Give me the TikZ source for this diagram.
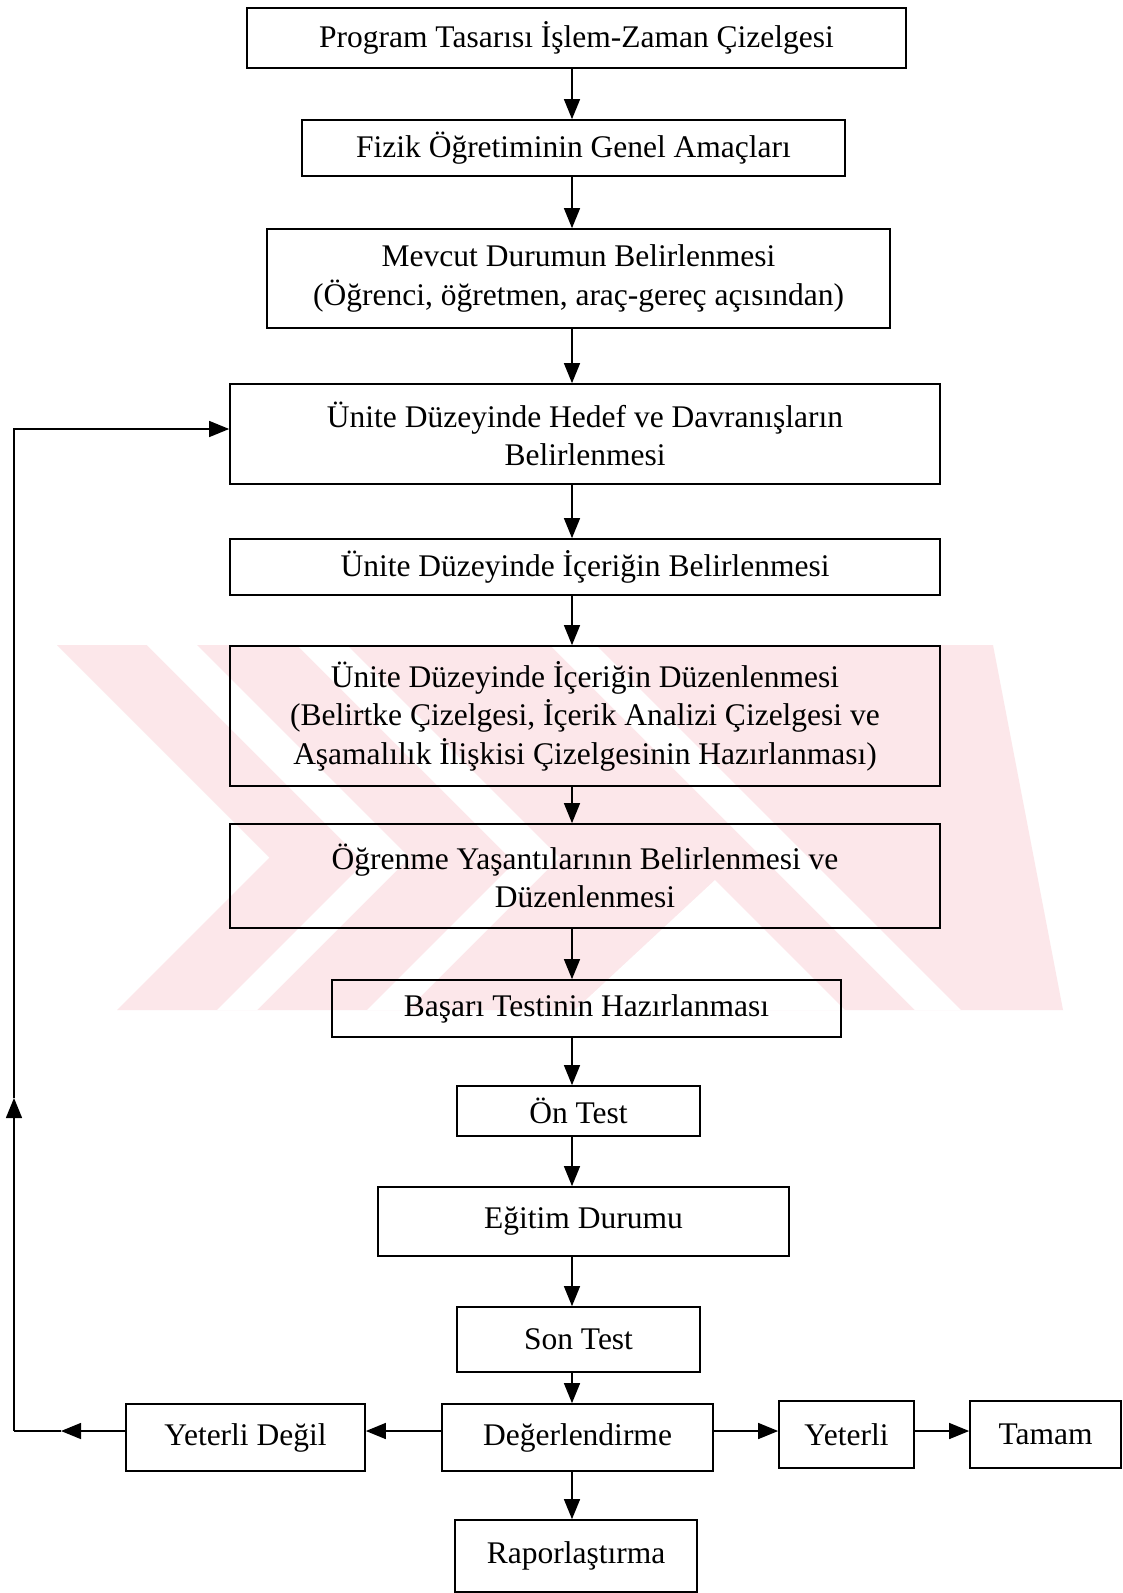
\documentclass[tikz,border=0pt]{standalone}
\usepackage{fontspec}
\setmainfont{Liberation Serif}
\usetikzlibrary{arrows.meta}
\definecolor{wm}{RGB}{252,231,234}
\begin{document}
\begin{tikzpicture}[x=1pt,y=-1pt,
  box/.style={draw, line width=1.7pt, inner sep=0pt, align=center,
    font=\fontsize{31.5}{38.5}\selectfont},
  arr/.style={line width=1.4pt, -{Triangle[length=20pt,width=16pt]}},
  link/.style={line width=1.4pt}]
\useasboundingbox (0,0) rectangle (1123,1593);
\fill[white] (0,0) rectangle (1123,1593);

% faint striped emblem behind the middle boxes
\begin{scope}
  \clip (57,645) -- (993,645) -- (1063,1010) -- (117,1010) -- (269.5,857.5) -- cycle;
  \fill[wm] (0,600) rectangle (1123,1050);
  \fill[white] (147,645) -- (197,645) -- (409.5,857.5) -- (257,1010) -- (217,1010) -- (364.5,862.5) -- cycle;
  \fill[white] (297,645) -- (347,645) -- (559.5,857.5) -- (407,1010) -- (367,1010) -- (514.5,862.5) -- cycle;
  \fill[white] (575,1010) -- (715,880) -- (845,1010) -- cycle;
  \fill[white] (915,1010) -- (961,1010) -- (596,645) -- (550,645) -- cycle;
\end{scope}

% process boxes
\node[box, minimum width=659pt, minimum height=60pt] (b1) at (576.5,38)
  {Program Tasarısı İşlem-Zaman Çizelgesi};
\node[box, minimum width=543pt, minimum height=56pt] (b2) at (573.5,148)
  {Fizik Öğretiminin Genel Amaçları};
\node[box, minimum width=623pt, minimum height=99pt] (b3) at (578.5,278.5)
  {Mevcut Durumun Belirlenmesi\\(Öğrenci, öğretmen, araç-gereç açısından)};
\node[box, minimum width=710pt, minimum height=100pt] (b4) at (585,434)
  {Ünite Düzeyinde Hedef ve Davranışların\\Belirlenmesi};
\node[box, minimum width=710pt, minimum height=56pt] (b5) at (585,567)
  {Ünite Düzeyinde İçeriğin Belirlenmesi};
\node[box, minimum width=710pt, minimum height=140pt] (b6) at (585,716)
  {Ünite Düzeyinde İçeriğin Düzenlenmesi\\(Belirtke Çizelgesi, İçerik Analizi Çizelgesi ve\\Aşamalılık İlişkisi Çizelgesinin Hazırlanması)};
\node[box, minimum width=710pt, minimum height=104pt] (b7) at (585,876)
  {Öğrenme Yaşantılarının Belirlenmesi ve\\Düzenlenmesi};
\node[box, minimum width=509pt, minimum height=57pt] (b8) at (586.5,1008.5)
  {Başarı Testinin Hazırlanması};
\node[box, minimum width=243pt, minimum height=50pt] (b9) at (578.5,1111)
  {Ön Test};
\node[box, minimum width=411pt, minimum height=69pt] (b10) at (583.5,1221.5)
  {Eğitim Durumu};
\node[box, minimum width=243pt, minimum height=65pt] (b11) at (578.5,1339.5)
  {Son Test};
\node[box, minimum width=271pt, minimum height=67pt] (dg) at (577.5,1437.5)
  {Değerlendirme};
\node[box, minimum width=239pt, minimum height=67pt] (yd) at (245.5,1437.5)
  {Yeterli Değil};
\node[box, minimum width=135pt, minimum height=67pt] (yt) at (846.5,1434.5)
  {Yeterli};
\node[box, minimum width=151pt, minimum height=67pt] (tm) at (1045.5,1434.5)
  {Tamam};
\node[box, minimum width=242pt, minimum height=72pt] (rp) at (576,1556)
  {Raporlaştırma};

% guide lines for the connectors
\coordinate (ax) at (572,0);
\coordinate (hy) at (0,1431);
\coordinate (fa) at (61,1431);
\coordinate (fb) at (14,1431);
\coordinate (fc) at (14,1098);
\coordinate (fd) at (14,429);
\coordinate (fe) at (230,429);

% main vertical flow
\foreach \a/\b in {b1/b2,b2/b3,b3/b4,b4/b5,b5/b6,b6/b7,b7/b8,b8/b9,b9/b10,b10/b11,b11/dg,dg/rp}
  \draw[arr] (\a.south -| ax) -- (\b.north -| ax);

% evaluation branches
\draw[arr] (dg.west |- hy) -- (yd.east |- hy);
\draw[arr] (dg.east |- hy) -- (yt.west |- hy);
\draw[arr] (yt.east |- hy) -- (tm.west |- hy);

% feedback loop back to the unit objectives
\draw[arr] (yd.west |- hy) -- (fa);
\draw[link] (fa) -- (fb);
\draw[arr] (fb) -- (fc);
\draw[arr] (fc) -- (fd) -- (b4.west |- fe);
\end{tikzpicture}
\end{document}
